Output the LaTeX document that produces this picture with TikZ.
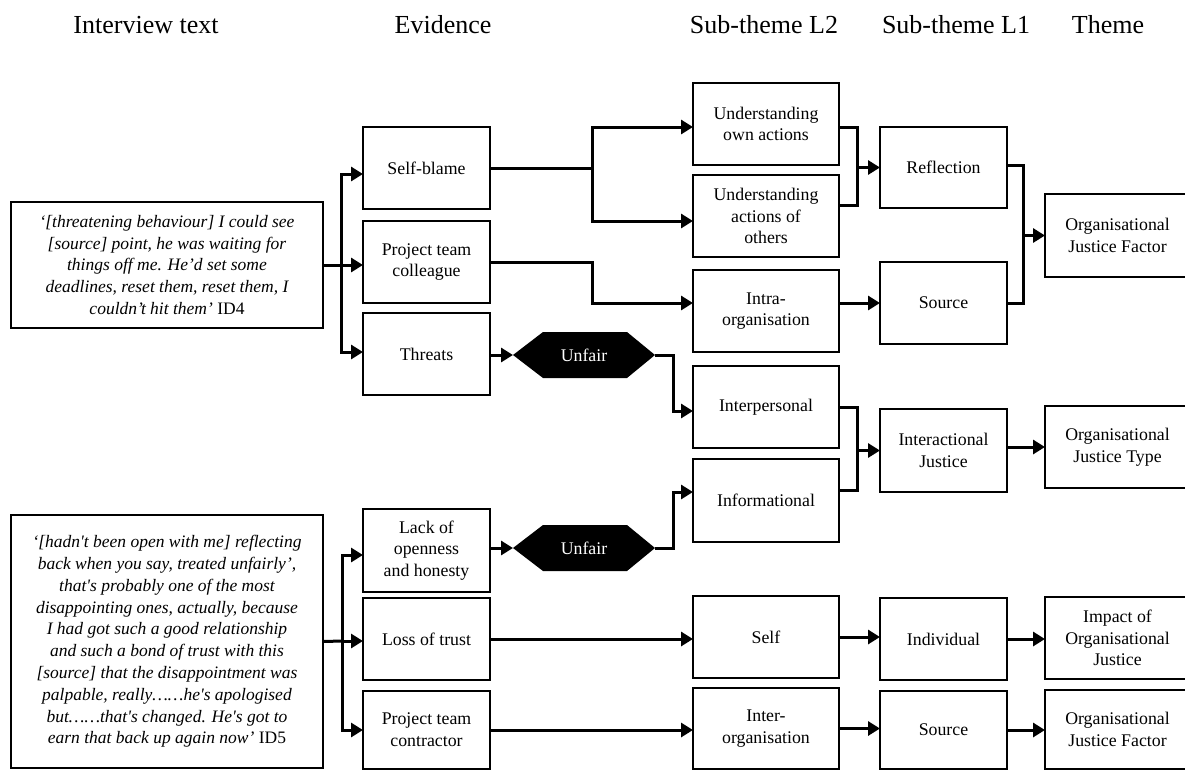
\documentclass[tikz,border=0pt]{standalone}
\usepackage{fontspec}
\setmainfont{Liberation Serif}
\usetikzlibrary{arrows.meta,backgrounds,calc}
\newcommand\sqt{\textquotesingle}
\begin{document}
\begin{tikzpicture}[x=1pt,y=-1pt,
  box/.style={draw, line width=2.2pt, inner sep=0pt, outer sep=0pt, align=center, font=\fontsize{17.8}{21.7}\selectfont},
  sz/.style 2 args={minimum width=#1pt, minimum height=#2pt},
  quote/.style={box, font=\fontsize{17.5}{21.8}\selectfont\itshape},
  hdr/.style={anchor=base, inner sep=0pt, font=\fontsize{26}{30}\selectfont},
  hexn/.style={inner sep=0pt, outer sep=0pt, minimum width=142pt, minimum height=46pt, text=white, font=\fontsize{17.8}{21.7}\selectfont},
  conn/.style={line width=3pt},
  arr/.style={conn, -{Triangle[length=12pt,width=14pt]}}
]
\useasboundingbox (0,0) rectangle (1185,772);
\clip (0,0) rectangle (1185,772);

% headers
\node[hdr] (h1) at (146,33) {Interview text};
\node[hdr] (h2) at (443,33) {Evidence};
\node[hdr] (h3) at (764,33) {Sub-theme L2};
\node[hdr] (h4) at (956,33) {Sub-theme L1};
\node[hdr] (h5) at (1108,33) {Theme};

% interview quotes
\node[quote, sz={312}{126}] (q1) at (167,265) {‘[threatening behaviour] I could see\\{}[source] point, he was waiting for\\ things off me. He’d set some\\ deadlines, reset them, reset them, I\\ couldn’t hit them’ {\upshape ID4}};
\node[quote, sz={312}{253}] (q2) at (167,641.5) {‘[hadn\sqt t been open with me] reflecting\\ back when you say, treated unfairly’,\\ that\sqt s probably one of the most\\ disappointing ones, actually, because\\ I had got such a good relationship\\ and such a bond of trust with this\\{}[source] that the disappointment was\\ palpable, really……he\sqt s apologised\\ but……that\sqt s changed. He\sqt s got to\\ earn that back up again now’ {\upshape ID5}};

% evidence
\node[box, sz={127}{82}] (sb) at (426.5,168) {Self-blame};
\node[box, sz={127}{82}] (ptc) at (426.5,262) {Project team\\colleague};
\node[box, sz={127}{82}] (thr) at (426.5,354) {Threats};
\node[box, sz={127}{83}] (lack) at (426.5,550.5) {Lack of\\openness\\and honesty};
\node[box, sz={127}{82}] (lot) at (426.5,639) {Loss of trust};
\node[box, sz={127}{78}] (ptco) at (426.5,730) {Project team\\contractor};

% unfair hexagons
\node[hexn] (hx1) at (584,355) {Unfair};
\node[hexn] (hx2) at (584,548) {Unfair};

% sub-theme L2
\node[box, sz={146}{82}] (uoa) at (766,124) {Understanding\\own actions};
\node[box, sz={146}{82}] (uao) at (766,216) {Understanding\\actions of\\others};
\node[box, sz={146}{82}] (intra) at (766,311) {Intra-\\organisation};
\node[box, sz={146}{82}] (ipers) at (766,407) {Interpersonal};
\node[box, sz={146}{83}] (info) at (766,500.5) {Informational};
\node[box, sz={146}{82}] (self) at (766,637) {Self};
\node[box, sz={146}{81}] (inter) at (766,728.5) {Inter-\\organisation};

% sub-theme L1
\node[box, sz={127}{81}] (refl) at (943.5,167.5) {Reflection};
\node[box, sz={127}{82}] (src1) at (943.5,303) {Source};
\node[box, sz={127}{83}] (ij) at (943.5,450.5) {Interactional\\Justice};
\node[box, sz={127}{82}] (indiv) at (943.5,639) {Individual};
\node[box, sz={127}{78}] (src2) at (943.5,730) {Source};

% theme
\node[box, sz={145}{83}] (ojf1) at (1117.5,235.5) {Organisational\\Justice Factor};
\node[box, sz={145}{82}] (ojt) at (1117.5,447) {Organisational\\Justice Type};
\node[box, sz={145}{82}] (imp) at (1117.5,638) {Impact of\\Organisational\\Justice};
\node[box, sz={145}{79}] (ojf2) at (1117.5,729.5) {Organisational\\Justice Factor};

\begin{scope}[on background layer]
  \fill[white] (0,0) rectangle (1185,772);
  \foreach \h in {hx1,hx2}
    \fill[black] (\h.west) -- ([xshift=30pt]\h.north west) -- ([xshift=-28pt]\h.north east) -- (\h.east)
      -- ([xshift=-28pt]\h.south east) -- ([xshift=30pt]\h.south west) -- cycle;
\end{scope}

% quote 1 branches
\coordinate (j1) at (341,265);
\draw[conn] (q1.east) -- (j1);
\draw[arr] (j1) -- (ptc.west |- j1);
\draw[arr] (j1) |- ([yshift=-6pt]sb.west);
\draw[arr] (j1) |- ([yshift=2pt]thr.west);

% quote 2 branches
\coordinate (j2) at (342,641);
\draw[conn] (q2.east) -- (j2);
\draw[arr] (j2) -- (lot.west |- j2);
\draw[arr] (j2) |- ([yshift=-4.5pt]lack.west);
\draw[arr] (j2) |- (ptco.west);

% self-blame split
\coordinate (j3) at (592,168);
\draw[conn] (sb.east) -- (j3);
\draw[arr] (j3) |- ([yshift=-3pt]uoa.west);
\draw[arr] (j3) |- ([yshift=-5pt]uao.west);

% colleague -> intra
\coordinate (j4) at (592,262);
\draw[arr] (ptc.east) -- (j4) |- ([yshift=8pt]intra.west);

% understanding -> reflection
\coordinate (m1) at (857,167.5);
\draw[conn] ([yshift=-3pt]uoa.east) -| (m1) |- ([yshift=11pt]uao.east);
\draw[arr] (m1) -- (refl.west);

% intra -> source
\draw[arr] ([yshift=8pt]intra.east) -- (src1.west);

% reflection, source -> factor
\coordinate (m2) at (1023,235.5);
\draw[conn] ([yshift=2pt]refl.east) -| (m2) |- (src1.east);
\draw[arr] (m2) -- (ojf1.west);

% threats -> unfair -> interpersonal
\draw[arr] (thr.east |- hx1.west) -- (hx1.west);
\coordinate (k1) at (673,355);
\draw[arr] (hx1.east) -- (k1) |- ([yshift=-4pt]ipers.west);

% lack -> unfair -> informational
\draw[arr] (lack.east |- hx2.west) -- (hx2.west);
\coordinate (k2) at (673,548);
\draw[arr] (hx2.east) -- (k2) |- ([yshift=8.5pt]info.west);

% interpersonal, informational -> interactional
\coordinate (m3) at (857,450.5);
\draw[conn] (ipers.east) -| (m3) |- ([yshift=10.5pt]info.east);
\draw[arr] (m3) -- (ij.west);
\draw[arr] (ij.east |- ojt.west) -- (ojt.west);

% bottom rows
\draw[arr] (lot.east) -- (lot.east -| self.west);
\draw[arr] (self.east) -- (self.east -| indiv.west);
\draw[arr] (indiv.east) -- (indiv.east -| imp.west);
\draw[arr] (ptco.east) -- (ptco.east -| inter.west);
\draw[arr] (inter.east) -- (inter.east -| src2.west);
\draw[arr] (src2.east) -- (src2.east -| ojf2.west);
\end{tikzpicture}
\end{document}
